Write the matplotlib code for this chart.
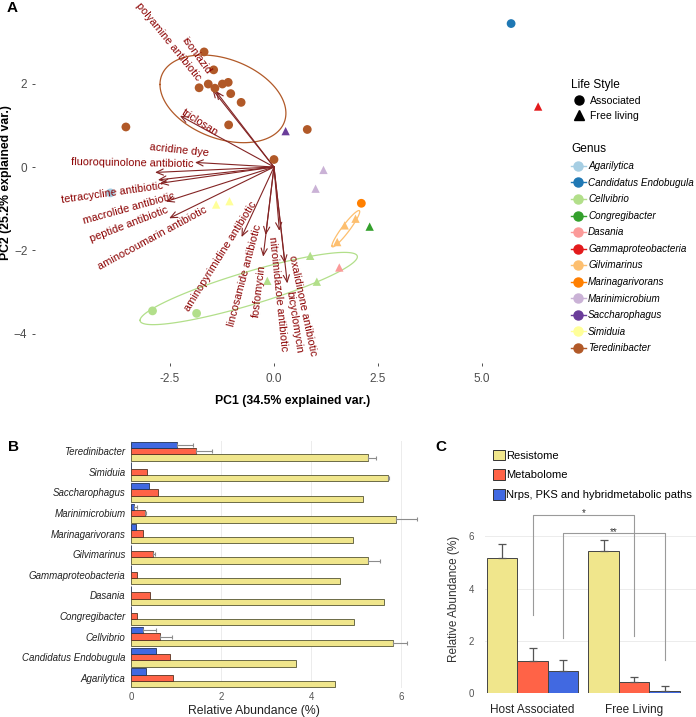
import numpy as np
import matplotlib
matplotlib.use("Agg")
import matplotlib.pyplot as plt
from matplotlib.lines import Line2D
from matplotlib.patches import Patch

plt.rcParams['font.family'] = ['Liberation Sans', 'DejaVu Sans']

W, H = 696, 717

# ---------------- panel A data (PCA biplot) ----------------
genera = ["Agarilytica", "Candidatus Endobugula", "Cellvibrio", "Congregibacter",
          "Dasania", "Gammaproteobacteria", "Gilvimarinus", "Marinagarivorans",
          "Marinimicrobium", "Saccharophagus", "Simiduia", "Teredinibacter"]
genus_colors = ["#A6CEE3", "#1F78B4", "#B2DF8A", "#33A02C", "#FB9A99", "#E31A1C",
                "#FDBF6F", "#FF7F00", "#CAB2D6", "#6A3D9A", "#FFFF99", "#B15928"]

pc1 = [-1.68, -1.45, -1.80, -1.58, -1.42, -1.24, -1.10, -1.04, -0.79, -3.56, -1.09, 0.80, 0.00,
       0.28, 1.19, 1.00, 2.10, 2.30, 1.96, 1.70, 1.52, 1.57,
       0.87, 1.03, -0.16, -2.92, -1.86, -1.39, -1.07, -3.93, 5.70, 6.35]
pc2 = [2.76, 2.33, 1.90, 1.99, 1.89, 1.99, 2.03, 1.76, 1.55, 0.96, 1.01, 0.90, 0.18,
       0.86, -0.07, -0.52, -0.87, -1.43, -1.24, -1.40, -1.80, -2.41,
       -2.13, -2.75, -2.73, -3.45, -3.51, -0.90, -0.82, -0.62, 3.44, 1.45]
pt_genus = ["Teredinibacter"] * 13 + [
    "Saccharophagus", "Marinimicrobium", "Marinimicrobium", "Marinagarivorans",
    "Congregibacter", "Gilvimarinus", "Gilvimarinus", "Gilvimarinus", "Dasania",
    "Cellvibrio", "Cellvibrio", "Cellvibrio", "Cellvibrio", "Cellvibrio",
    "Simiduia", "Simiduia", "Agarilytica", "Candidatus Endobugula", "Gammaproteobacteria"]
pt_life = ["Associated"] * 13 + [
    "Free living", "Free living", "Free living", "Associated",
    "Free living", "Free living", "Free living", "Free living", "Free living",
    "Free living", "Free living", "Free living", "Associated", "Associated",
    "Free living", "Free living", "Associated", "Associated", "Free living"]

var_names = ["polyamine antibiotic", "isoniazid", "triclosan", "acridine dye",
             "fluoroquinolone antibiotic", "tetracycline antibiotic", "macrolide antibiotic",
             "peptide antibiotic", "aminocoumarin antibiotic", "aminopyrimidine antibiotic",
             "lincosamide antibiotic", "fosfomycin", "nitroimidazole antibiotic",
             "oxalidinone antibiotic", "bicyclomycin"]
load1 = [-1.48, -1.40, -2.26, -1.90, -2.86, -2.79, -2.74, -2.60, -2.52, -0.78, -0.20, -0.26, 0.13, 0.26, 0.32]
load2 = [1.86, 1.82, 1.23, 0.11, -0.13, -0.31, -0.39, -0.83, -1.23, -1.68, -1.63, -2.15, -1.53, -2.31, -2.79]

# label placement (x, y, rotation, ha)
var_label_pos = [(-1.80, 2.11, -51, "right"), (-1.56, 2.25, -54, "right"),
                 (-2.19, 1.33, -32.5, "left"), (-1.58, 0.34, -6, "right"),
                 (-1.94, 0.08, -1, "right"), (-2.66, -0.44, 8, "right"),
                 (-2.38, -0.68, 15.5, "right"), (-2.55, -1.03, 21, "right"),
                 (-1.62, -1.01, 28.4, "right"), (-0.48, -0.84, 58, "right"),
                 (-0.37, -1.39, 75, "right"), (-0.29, -2.35, 83, "right"),
                 (-0.05, -1.68, -84, "left"), (0.43, -2.13, -78, "left"),
                 (0.36, -2.97, -81, "left")]

# ---------------- panel B data ----------------
cats_b = ["Teredinibacter", "Simiduia", "Saccharophagus", "Marinimicrobium",
          "Marinagarivorans", "Gilvimarinus", "Gammaproteobacteria", "Dasania",
          "Congregibacter", "Cellvibrio", "Candidatus Endobugula", "Agarilytica"]
resist_b = [5.26, 5.70, 5.16, 5.88, 4.93, 5.27, 4.65, 5.62, 4.95, 5.81, 3.67, 4.53]
resist_b_err = [0.18, 0.03, 0, 0.48, 0, 0.26, 0, 0, 0, 0.32, 0, 0]
metab_b = [1.44, 0.35, 0.61, 0.30, 0.26, 0.49, 0.13, 0.43, 0.13, 0.64, 0.86, 0.94]
metab_b_err = [0.37, 0, 0, 0.03, 0, 0.04, 0, 0, 0, 0.27, 0, 0]
nrps_b = [1.03, 0, 0.41, 0.06, 0.11, 0, 0, 0, 0, 0.26, 0.55, 0.34]
nrps_b_err = [0.34, 0, 0, 0.08, 0, 0, 0, 0, 0, 0.29, 0, 0]

# ---------------- panel C data ----------------
groups_c = ["Host Associated", "Free Living"]
resist_c = [5.17, 5.43]
resist_c_err = [0.52, 0.43]
metab_c = [1.21, 0.41]
metab_c_err = [0.50, 0.22]
nrps_c = [0.83, 0.09]
nrps_c_err = [0.45, 0.17]
series_names = ["Resistome", "Metabolome", "Nrps, PKS and hybridmetabolic paths"]
series_colors = ["#F0E68C", "#FF6347", "#4169E1"]


def box(l, t, r, b):
    return [l / W, 1 - b / H, (r - l) / W, (b - t) / H]


def ellipse_path(x, y, prob=0.68, n=120):
    mu = np.array([np.mean(x), np.mean(y)])
    sigma = np.cov(np.vstack([x, y]))
    ed = np.sqrt(-2 * np.log(1 - prob))
    t = np.linspace(-np.pi, np.pi, n)
    circ = np.column_stack([np.cos(t), np.sin(t)])
    L = np.linalg.cholesky(sigma)
    return circ @ L.T * ed + mu


fig = plt.figure(figsize=(W / 100, H / 100), dpi=100)

# ================= A =================
ax = fig.add_axes(box(35, 2, 550, 363))
ax.set_xlim(-5.745, 6.635)
ax.set_ylim(-4.70, 3.957)
for s in ax.spines.values():
    s.set_visible(False)

for i in range(len(var_names)):
    ax.annotate("", xy=(load1[i], load2[i]), xytext=(0, 0),
                arrowprops=dict(arrowstyle="->,head_length=0.5,head_width=0.22",
                                color="#832424", lw=0.8, shrinkA=0, shrinkB=0,
                                mutation_scale=10))

pc1 = np.array(pc1)
pc2 = np.array(pc2)
pt_genus = np.array(pt_genus)
pt_life = np.array(pt_life)
for g, c in zip(genera, genus_colors):
    for life, mk in [("Associated", "o"), ("Free living", "^")]:
        m = (pt_genus == g) & (pt_life == life)
        if m.any():
            ax.scatter(pc1[m], pc2[m], marker=mk, s=40 if mk == "o" else 36,
                       color=c, edgecolors="none", zorder=3)
    m = pt_genus == g
    if m.sum() >= 3:
        e = ellipse_path(pc1[m], pc2[m])
        ax.plot(e[:, 0], e[:, 1], color=c, lw=0.9, zorder=2)

for name, (lx, ly, rot, ha) in zip(var_names, var_label_pos):
    ax.text(lx, ly, name, rotation=rot, rotation_mode="anchor", ha=ha, va="center",
            color="#8B0000", fontsize=7.9, zorder=4)

ax.set_xticks([-2.5, 0.0, 2.5, 5.0])
ax.set_xticklabels(["-2.5", "0.0", "2.5", "5.0"])
ax.set_yticks([-4, -2, 0, 2])
ax.tick_params(length=2.5, width=0.6, color="#333333", labelcolor="#4D4D4D",
               labelsize=8.5, pad=3)
ax.tick_params(axis="x", pad=5)
ax.set_xlabel("PC1 (34.5% explained var.)", fontsize=8.8, fontweight="bold", labelpad=7)
ax.set_ylabel("PC2 (25.2% explained var.)", fontsize=8.8, fontweight="bold")
ax.yaxis.set_label_coords(-0.044, 0.5)

life_handles = [Line2D([], [], marker="o", ls="none", color="black", markersize=6.5),
                Line2D([], [], marker="^", ls="none", color="black", markersize=6.5)]
fig.legend(life_handles, ["Associated", "Free living"], title="Life Style",
           loc="upper left", bbox_to_anchor=(566 / W, 1 - 74 / H), frameon=False,
           borderpad=0, handlelength=1.5, handletextpad=0.3, labelspacing=0.45,
           fontsize=7.6, title_fontsize=8.6, alignment="left")
genus_handles = [Line2D([], [], marker="o", color=c, markersize=6.5, lw=1.0)
                 for c in genus_colors]
fig.legend(genus_handles, genera, title="Genus", loc="upper left",
           bbox_to_anchor=(566 / W, 1 - 138 / H), frameon=False, borderpad=0,
           handlelength=1.5, handletextpad=0.25, labelspacing=0.66,
           prop=dict(size=7.1, style="italic"), title_fontsize=8.6, alignment="left")

# ================= B =================
bx = fig.add_axes(box(131, 441, 420, 688))
n = len(cats_b)
ypos = np.arange(n)[::-1]
bh = 0.307
bx.barh(ypos - bh, resist_b, height=bh, color=series_colors[0], edgecolor="#555533", lw=0.6)
bx.barh(ypos, metab_b, height=bh, color=series_colors[1], edgecolor="#553322", lw=0.6)
bx.barh(ypos + bh, nrps_b, height=bh, color=series_colors[2], edgecolor="#223355", lw=0.6)
for vals, errs, off in [(resist_b, resist_b_err, -bh), (metab_b, metab_b_err, 0),
                        (nrps_b, nrps_b_err, bh)]:
    for j in range(n):
        if errs[j] > 0:
            bx.errorbar(vals[j], ypos[j] + off, xerr=[[0], [errs[j]]], color="#8c8c8c",
                        lw=0.8, capsize=1.6, capthick=0.8)
bx.set_xlim(0, 6.42)
bx.set_ylim(-0.5, n - 0.5)
bx.set_yticks(ypos)
bx.set_yticklabels(cats_b, fontsize=7.0, style="italic", color="#222222")
bx.set_xticks([0, 2, 4, 6])
bx.tick_params(axis="y", length=0, pad=4)
bx.tick_params(axis="x", length=0, pad=3, labelsize=7, labelcolor="#555555")
bx.grid(axis="x", color="#ececec", lw=0.7)
bx.set_axisbelow(True)
for s in bx.spines.values():
    s.set_visible(False)
bx.set_xlabel("Relative Abundance (%)", fontsize=8.8, color="#222222")
bx.xaxis.set_label_coords(0.426, -0.07)

# ================= C =================
cx = fig.add_axes(box(485, 505, 696, 693))
xg = np.arange(len(groups_c))
bw = 0.3
for k, (vals, errs) in enumerate([(resist_c, resist_c_err), (metab_c, metab_c_err),
                                  (nrps_c, nrps_c_err)]):
    xs = xg + (k - 1) * bw
    cx.bar(xs, vals, width=bw, color=series_colors[k], edgecolor="#444444", lw=0.7)
    cx.errorbar(xs, vals, yerr=[np.zeros(len(vals)), errs], fmt="none", ecolor="#555555",
                lw=0.9, capsize=3, capthick=0.9)
cx.set_xlim(-0.468, 1.61)
cx.set_ylim(0, 7.2)
cx.set_yticks([0, 2, 4, 6])
cx.set_xticks(xg)
cx.set_xticklabels(groups_c, fontsize=8.5, color="#222222")
cx.tick_params(axis="x", length=0, pad=8)
cx.tick_params(axis="y", length=0, pad=8, labelsize=7, labelcolor="#555555")
cx.grid(axis="y", color="#ececec", lw=0.7)
cx.set_axisbelow(True)
for s in cx.spines.values():
    s.set_visible(False)
cx.set_ylabel("Relative Abundance (%)", fontsize=8.5, color="#333333", labelpad=6)

# significance brackets
brackets = [(xg[0], xg[1], 6.83, 2.99, 2.20, "*"),
            (xg[0] + bw, xg[1] + bw, 6.13, 2.10, 1.28, "**")]
for x0, x1, top, b0, b1, lab in brackets:
    cx.plot([x0, x0, x1, x1], [b0, top, top, b1], color="#9a9a9a", lw=0.8, clip_on=False)
    cx.text((x0 + x1) / 2, top + 0.05, lab, ha="center", va="center", fontsize=7,
            color="#333333")

c_handles = [Patch(facecolor=c, edgecolor="#333333", lw=0.7) for c in series_colors]
fig.legend(c_handles, series_names, loc="upper left", bbox_to_anchor=(487 / W, 1 - 444 / H),
           frameon=False, borderpad=0, handlelength=1.1, handleheight=1.1,
           handletextpad=0.15, labelspacing=0.78, fontsize=8)

# panel letters
fig.text(12 / W, 1 - 8 / H, "A", fontsize=11, fontweight="bold", ha="center", va="center")
fig.text(13 / W, 1 - 447 / H, "B", fontsize=11, fontweight="bold", ha="center", va="center")
fig.text(441 / W, 1 - 447 / H, "C", fontsize=11, fontweight="bold", ha="center", va="center")

fig.savefig("out.png", dpi=100)
